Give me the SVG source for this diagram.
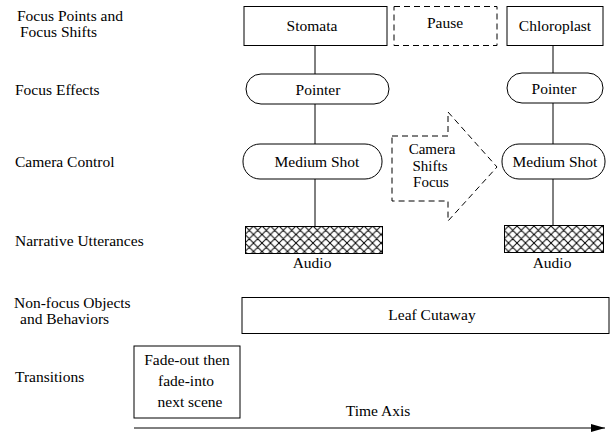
<svg xmlns="http://www.w3.org/2000/svg" width="611" height="437" viewBox="0 0 611 437">
<style>
text{font-family:"Liberation Serif","Times New Roman",serif;font-size:15.5px;fill:#000}
.c{text-anchor:middle}
.s{font-size:15px}
.b{fill:#fff;stroke:#000;stroke-width:1}
.d{fill:#fff;stroke:#000;stroke-width:1;stroke-dasharray:6 4}
.h{fill:url(#hatch);stroke:#000;stroke-width:1}
.l{stroke:#000;stroke-width:1;fill:none}
</style>
<defs>
<pattern id="hatch" width="8.5" height="8.5" patternUnits="userSpaceOnUse" x="245" y="226">
<rect width="8.5" height="8.5" fill="#fff"/>
<path d="M0,0 L8.5,8.5 M8.5,0 L0,8.5 M-1,7.5 L1,9.5 M7.5,-1 L9.5,1" stroke="#000" stroke-width="1"/>
</pattern>
<marker id="ah" markerWidth="14" markerHeight="8" refX="14" refY="4" orient="auto" markerUnits="userSpaceOnUse">
<path d="M0,0 L14,4 L0,8 Z" fill="#000"/>
</marker>
</defs>
<g id="labels">
<text x="17" y="21">Focus Points and</text>
<text x="20" y="37">Focus Shifts</text>
<text x="15" y="95">Focus Effects</text>
<text x="15" y="167">Camera Control</text>
<text x="15" y="246">Narrative Utterances</text>
<text x="14" y="308">Non-focus Objects</text>
<text x="20" y="324">and Behaviors</text>
<text x="15" y="382">Transitions</text>
</g>
<g id="connectors">
<line class="l" x1="315" y1="45" x2="315" y2="74"/>
<line class="l" x1="315" y1="104" x2="315" y2="144"/>
<line class="l" x1="315" y1="179" x2="315" y2="227"/>
<line class="l" x1="553" y1="45" x2="553" y2="73"/>
<line class="l" x1="553" y1="103" x2="553" y2="144"/>
<line class="l" x1="553" y1="179" x2="553" y2="225"/>
<line class="l" x1="134" y1="428" x2="605" y2="428" marker-end="url(#ah)"/>
</g>
<g id="stomata"><rect class="b" x="244" y="6.5" width="143" height="39"/><text class="c" x="312" y="31">Stomata</text></g>
<g id="pause"><rect class="d" x="394" y="6.5" width="103" height="39"/><text class="c" x="445" y="28">Pause</text></g>
<g id="chloroplast"><rect class="b" x="507" y="6.5" width="96" height="39"/><text class="c" x="555" y="31">Chloroplast</text></g>
<g id="pointer1"><rect class="b" x="246" y="74" width="143" height="30" rx="15"/><text class="c" x="318" y="95">Pointer</text></g>
<g id="pointer2"><rect class="b" x="507" y="73" width="96" height="30" rx="15"/><text class="c" x="554" y="94">Pointer</text></g>
<g id="medium1"><rect class="b" x="243" y="144" width="139" height="35" rx="17"/><text class="c" x="317" y="167">Medium Shot</text></g>
<g id="medium2"><rect class="b" x="502" y="144" width="103" height="35" rx="17"/><text class="c" x="555" y="167">Medium Shot</text></g>
<g id="camera-shift"><path class="d" d="M392,136 L448,136 L448,112 L497,167 L448,221 L448,201 L392,201 Z"/>
<text class="c s" x="432" y="154">Camera</text><text class="c s" x="430" y="170.5">Shifts</text><text class="c s" x="431" y="187">Focus</text></g>
<g id="audio1"><rect class="h" x="245.5" y="226.5" width="137" height="27"/><text class="c" x="312" y="268">Audio</text></g>
<g id="audio2"><rect class="h" x="504.5" y="225.5" width="99" height="27"/><text class="c" x="552" y="268">Audio</text></g>
<g id="leaf"><rect class="b" x="242" y="297.5" width="367" height="36"/><text class="c" x="432" y="320">Leaf Cutaway</text></g>
<g id="fade"><rect class="b" x="134" y="346" width="106" height="72"/>
<text class="c" x="187" y="365">Fade-out then</text><text class="c" x="186" y="386">fade-into</text><text class="c" x="190" y="407">next scene</text></g>
<g id="time-axis"><text class="c" x="378" y="416">Time Axis</text></g>
</svg>
